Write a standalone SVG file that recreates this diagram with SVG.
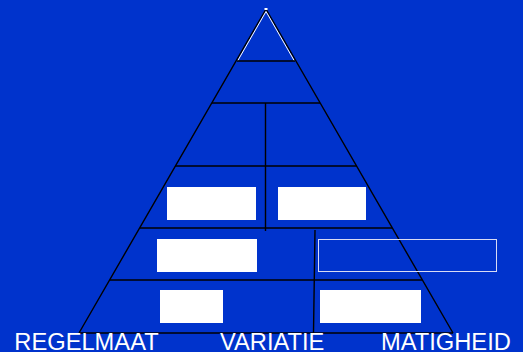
<svg xmlns="http://www.w3.org/2000/svg" width="523" height="352" viewBox="0 0 523 352">
<style>
.ln{stroke:#000;stroke-width:1.4;fill:none}
.box{fill:#fff}
.lbl{font-family:"Liberation Sans",Arial,sans-serif;font-size:23.7px;fill:#fff}
</style>
<rect width="523" height="352" fill="#0033CC"/>
<g id="connectors">
<path class="ln" d="M265.5,10 L79,333 M266.5,10 L453,333"/>
<path d="M237.6,61 L266,11.5 L294.4,61" fill="none" stroke="#fff" stroke-width="1"/>
<rect x="264.5" y="8" width="3" height="2" fill="#fff"/>
<path class="ln" d="M237,61H295 M212,103H320 M175,166H357 M140,228H392 M110,280H422 M79,333H453"/>
<path class="ln" d="M265.5,103V231 M315,230L313.5,333"/>
</g>
<g id="box1"><rect class="box" x="167" y="187" width="89" height="33"/></g>
<g id="box2"><rect class="box" x="278" y="187" width="88" height="33"/></g>
<g id="box3"><rect class="box" x="157" y="239" width="100" height="33"/></g>
<g id="box4"><rect x="318.5" y="239.5" width="178" height="32" fill="none" stroke="#d8dcf4" stroke-width="1"/></g>
<g id="box5"><rect class="box" x="160" y="290" width="63" height="33"/></g>
<g id="box6"><rect class="box" x="320" y="290" width="101" height="33"/></g>
<g id="labels">
<text class="lbl" x="14.3" y="349.5">REGELMAAT</text>
<text class="lbl" x="220" y="349.5">VARIATIE</text>
<text class="lbl" x="381" y="349.5">MATIGHEID</text>
</g>
</svg>
